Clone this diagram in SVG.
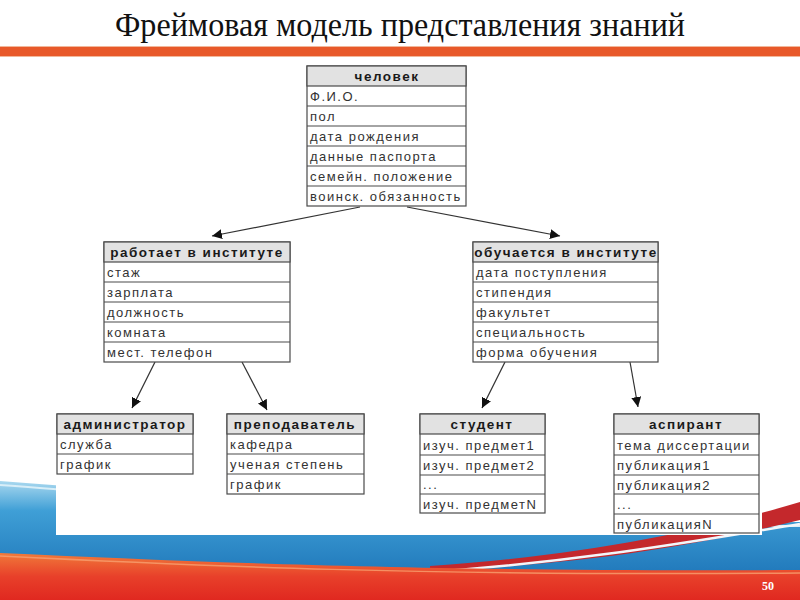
<svg xmlns="http://www.w3.org/2000/svg" width="800" height="600" viewBox="0 0 800 600">
<defs>
<style>
.box{fill:#fff;stroke:#4a4a4a;stroke-width:1.2}
.hd{fill:#e2e2e2;stroke:#4a4a4a;stroke-width:1.2}
.sep{stroke:#4a4a4a;stroke-width:1.2}
.ht{font-family:"Liberation Sans",Arial,sans-serif;font-size:13.5px;font-weight:bold;fill:#1a1a1a;text-anchor:middle;letter-spacing:1.5px}
.rt{font-family:"Liberation Sans",Arial,sans-serif;font-size:13px;fill:#333;letter-spacing:1.5px}
.conn{stroke:#333;stroke-width:1.2;fill:none;marker-end:url(#ah)}
</style>
<marker id="ah" viewBox="0 0 10 10" refX="10" refY="5" markerWidth="10" markerHeight="10" markerUnits="userSpaceOnUse" orient="auto">
<path d="M0,0 L10,5 L0,10 Z" fill="#111"/>
</marker>
<linearGradient id="blue" x1="0" y1="0" x2="0" y2="1">
<stop offset="0" stop-color="#a9d8ef"/>
<stop offset="0.25" stop-color="#3f9fd6"/>
<stop offset="1" stop-color="#1469b0"/>
</linearGradient>
<linearGradient id="red" x1="0" y1="0" x2="0" y2="1">
<stop offset="0" stop-color="#f07a3a"/>
<stop offset="0.5" stop-color="#e8402a"/>
<stop offset="1" stop-color="#e02820"/>
</linearGradient>
</defs>
<rect width="800" height="600" fill="#fff"/>
<g id="background">
<path d="M0,481 C200,495 450,525 800,522 L800,600 L0,600 Z" fill="url(#blue)"/>
<path d="M0,485 C200,499 450,528 800,526" fill="none" stroke="#d8eef8" stroke-width="2"/>
<path d="M430,566 C580,556 700,532 800,502 L800,520 C700,545 580,566 430,570 Z" fill="#c4282c"/>
<path d="M430,572 C580,562 700,540 800,524" fill="none" stroke="#f2f6fa" stroke-width="2.5"/>
<path d="M0,553 C200,562 420,572 800,570 L800,600 L0,600 Z" fill="url(#red)"/>
<path d="M0,556 C200,566 420,576 800,573" fill="none" stroke="#f7a070" stroke-width="1.5" opacity="0.8"/>
<rect x="0" y="47" width="800" height="9" fill="#e8592a"/>
<rect x="0" y="46" width="800" height="1" fill="#f2b79a"/>
<rect x="0" y="56" width="800" height="1" fill="#f2b79a"/>
<text x="400" y="36" font-family="'Liberation Serif','Times New Roman',serif" font-size="33" fill="#111" text-anchor="middle" textLength="570" lengthAdjust="spacingAndGlyphs">Фреймовая модель представления знаний</text>
<text x="768" y="590" font-family="'Liberation Serif','Times New Roman',serif" font-size="12" font-weight="bold" fill="#fff" text-anchor="middle">50</text>
</g>
<rect x="56" y="58" width="706" height="477" fill="#fff"/>
<g id="connectors">
<line class="conn" x1="360" y1="207" x2="212" y2="236"/>
<line class="conn" x1="407" y1="207" x2="560" y2="236"/>
<line class="conn" x1="155" y1="362" x2="132" y2="408"/>
<line class="conn" x1="242" y1="362" x2="267" y2="410"/>
<line class="conn" x1="505" y1="362" x2="482" y2="408"/>
<line class="conn" x1="630" y1="362" x2="638" y2="407"/>
</g>
<g id="chelovek">
<rect class="box" x="307" y="66" width="159" height="140"/>
<rect class="hd" x="307" y="66" width="159" height="20"/>
<line class="sep" x1="307" y1="106" x2="466" y2="106"/>
<line class="sep" x1="307" y1="126" x2="466" y2="126"/>
<line class="sep" x1="307" y1="146" x2="466" y2="146"/>
<line class="sep" x1="307" y1="166" x2="466" y2="166"/>
<line class="sep" x1="307" y1="186" x2="466" y2="186"/>
<text class="ht" x="387" y="81">человек</text>
<text class="rt" x="310" y="101">Ф.И.О.</text>
<text class="rt" x="310" y="121">пол</text>
<text class="rt" x="310" y="141">дата рождения</text>
<text class="rt" x="310" y="161">данные паспорта</text>
<text class="rt" x="310" y="181">семейн. положение</text>
<text class="rt" x="310" y="201">воинск. обязанность</text>
</g>
<g id="rabotaet">
<rect class="box" x="104" y="242" width="186" height="120"/>
<rect class="hd" x="104" y="242" width="186" height="20"/>
<line class="sep" x1="104" y1="282" x2="290" y2="282"/>
<line class="sep" x1="104" y1="302" x2="290" y2="302"/>
<line class="sep" x1="104" y1="322" x2="290" y2="322"/>
<line class="sep" x1="104" y1="342" x2="290" y2="342"/>
<text class="ht" x="197" y="257">работает в институте</text>
<text class="rt" x="107" y="277">стаж</text>
<text class="rt" x="107" y="297">зарплата</text>
<text class="rt" x="107" y="317">должность</text>
<text class="rt" x="107" y="337">комната</text>
<text class="rt" x="107" y="357">мест. телефон</text>
</g>
<g id="obuchaetsya">
<rect class="box" x="473" y="242" width="185" height="120"/>
<rect class="hd" x="473" y="242" width="185" height="20"/>
<line class="sep" x1="473" y1="282" x2="658" y2="282"/>
<line class="sep" x1="473" y1="302" x2="658" y2="302"/>
<line class="sep" x1="473" y1="322" x2="658" y2="322"/>
<line class="sep" x1="473" y1="342" x2="658" y2="342"/>
<text class="ht" x="566" y="257">обучается в институте</text>
<text class="rt" x="476" y="277">дата поступления</text>
<text class="rt" x="476" y="297">стипендия</text>
<text class="rt" x="476" y="317">факультет</text>
<text class="rt" x="476" y="337">специальность</text>
<text class="rt" x="476" y="357">форма обучения</text>
</g>
<g id="administrator">
<rect class="box" x="57" y="414" width="136" height="60"/>
<rect class="hd" x="57" y="414" width="136" height="20"/>
<line class="sep" x1="57" y1="454" x2="193" y2="454"/>
<text class="ht" x="125" y="429">администратор</text>
<text class="rt" x="60" y="449">служба</text>
<text class="rt" x="60" y="469">график</text>
</g>
<g id="prepodavatel">
<rect class="box" x="227" y="414" width="137" height="80"/>
<rect class="hd" x="227" y="414" width="137" height="20"/>
<line class="sep" x1="227" y1="454" x2="364" y2="454"/>
<line class="sep" x1="227" y1="474" x2="364" y2="474"/>
<text class="ht" x="295" y="429">преподаватель</text>
<text class="rt" x="230" y="449">кафедра</text>
<text class="rt" x="230" y="469">ученая степень</text>
<text class="rt" x="230" y="489">график</text>
</g>
<g id="student">
<rect class="box" x="420" y="414" width="125" height="99"/>
<rect class="hd" x="420" y="414" width="125" height="20"/>
<line class="sep" x1="420" y1="455" x2="545" y2="455"/>
<line class="sep" x1="420" y1="475" x2="545" y2="475"/>
<line class="sep" x1="420" y1="494" x2="545" y2="494"/>
<text class="ht" x="482" y="429">студент</text>
<text class="rt" x="423" y="450">изуч. предмет1</text>
<text class="rt" x="423" y="470">изуч. предмет2</text>
<text class="rt" x="423" y="489">...</text>
<text class="rt" x="423" y="509">изуч. предметN</text>
</g>
<g id="aspirant">
<rect class="box" x="614" y="414" width="145" height="119"/>
<rect class="hd" x="614" y="414" width="145" height="20"/>
<line class="sep" x1="614" y1="455" x2="759" y2="455"/>
<line class="sep" x1="614" y1="475" x2="759" y2="475"/>
<line class="sep" x1="614" y1="494" x2="759" y2="494"/>
<line class="sep" x1="614" y1="514" x2="759" y2="514"/>
<text class="ht" x="686" y="429">аспирант</text>
<text class="rt" x="617" y="450">тема диссертации</text>
<text class="rt" x="617" y="470">публикация1</text>
<text class="rt" x="617" y="490">публикация2</text>
<text class="rt" x="617" y="509">...</text>
<text class="rt" x="617" y="529">публикацияN</text>
</g>
</svg>
